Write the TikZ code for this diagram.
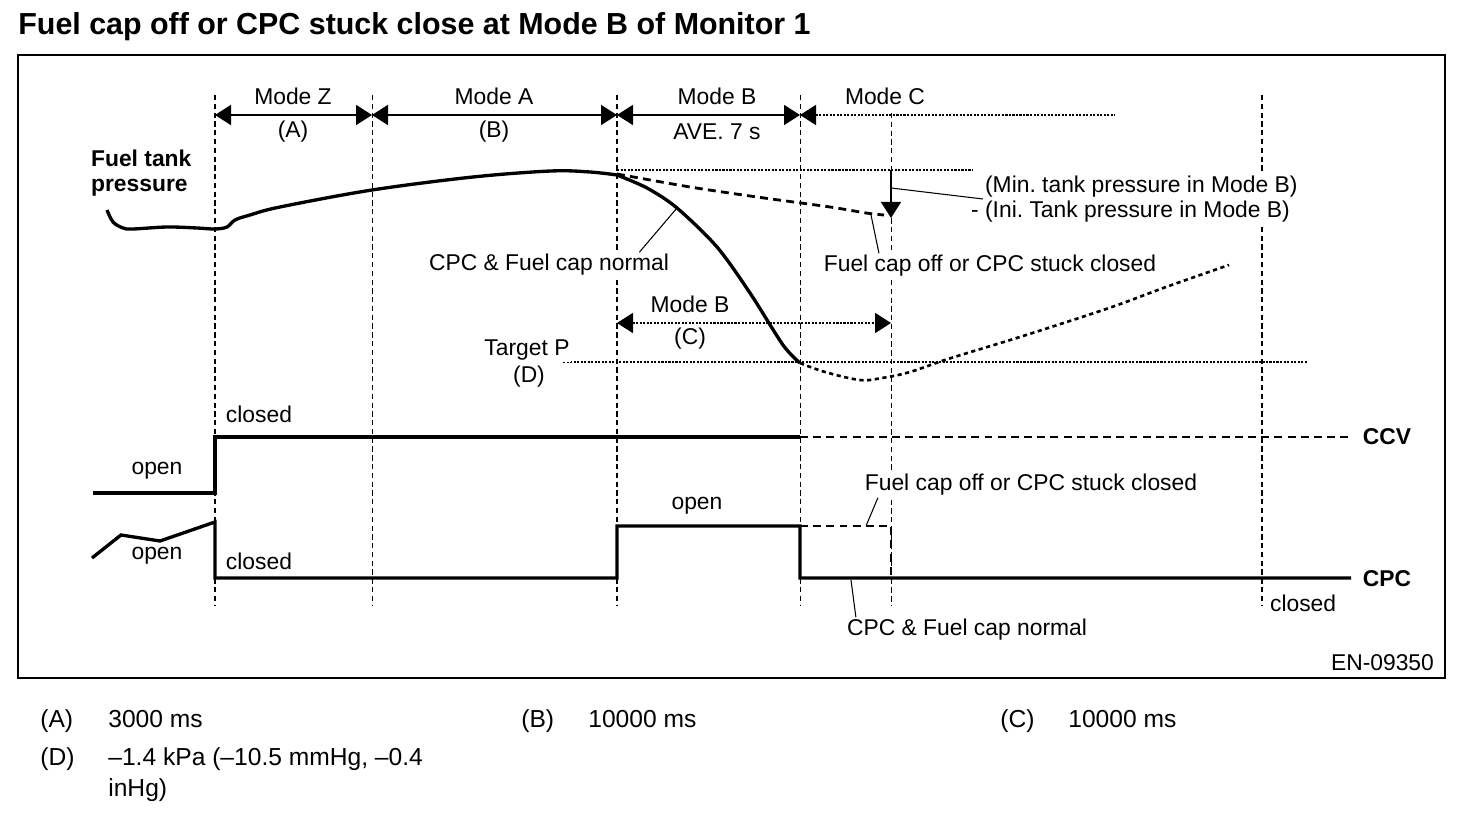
\documentclass[tikz,border=0pt]{standalone}
\usepackage{fontspec}
\setmainfont{Liberation Sans}
\usetikzlibrary{arrows.meta}
\usetikzlibrary{positioning}
\usetikzlibrary{calc}
\usetikzlibrary{math}
\frenchspacing

\begin{document}
\begin{tikzpicture}[x=0.2mm,y=-0.2mm,
  sig/.style={line width=1.9pt},
  sigdash/.style={line width=1.6pt,dash pattern=on 4.5pt off 3pt},
  sigdot/.style={line width=1.5pt,dash pattern=on 2.4pt off 2pt},
  markthin/.style={line width=0.5pt,dash pattern=on 3pt off 2pt},
  markthick/.style={line width=0.9pt,dash pattern=on 3pt off 2pt},
  dotln/.style={line width=0.9pt,dash pattern=on 1.2pt off 0.8pt},
  dim/.style={line width=1pt,{Triangle[length=3.2mm,width=4mm]}-{Triangle[length=3.2mm,width=4mm]}},
  lead/.style={line width=0.6pt},
  lbl/.style={font=\fontsize{13}{13.8}\selectfont,inner sep=1pt,fill=white},
  blbl/.style={font=\fontsize{13}{13.8}\selectfont\bfseries,inner sep=1pt},
  note/.style={font=\fontsize{14}{16}\selectfont,inner sep=0pt,anchor=base west},
]

  \tikzmath{
    \xZ  = 215;  % start of Mode Z
    \xA  = 372;  % start of Mode A
    \xB  = 617;  % start of Mode B
    \xC  = 800;  % start of Mode C
    \xM  = 891;  % end of Mode B (C)
    \xE  = 1262; % CPC closed again
    \yTop = 95;  % top of the time marks
    \yBot = 606; % bottom of the time marks
    \yDim = 115; % mode arrows
    \yHi  = 437; % CCV closed
    \yLo  = 493; % CCV open
    \yOp  = 526; % CPC open
    \yCl  = 578; % CPC closed
  }

  \useasboundingbox (0,0) rectangle (1472,814);

  % title and frame
  \node[font=\fontsize{17.3}{20}\selectfont\bfseries,anchor=base west,inner sep=0] (title) at (18,35)
    {Fuel cap off or CPC stuck close at Mode B of Monitor 1};
  \draw[line width=0.85pt] (18,55) rectangle (1445,678);

  % time marks
  \draw[markthick] (\xZ,\yTop) -- (\xZ,\yBot);
  \draw[markthin]  (\xA,\yTop) -- (\xA,\yBot);
  \draw[markthick] (\xB,\yTop) -- (\xB,\yBot);
  \draw[markthin]  (\xC,\yTop) -- (\xC,\yBot);
  \draw[markthin]  (\xM,113)   -- (\xM,\yBot);
  \draw[markthick] (\xE,\yTop) -- (\xE,\yBot);

  % mode arrows
  \coordinate (dZ) at (\xZ,\yDim);
  \coordinate (dA) at (\xA,\yDim);
  \coordinate (dB) at (\xB,\yDim);
  \coordinate (dC) at (\xC,\yDim);
  \coordinate (dEnd) at (1115,\yDim);

  \draw[dim] (dZ) -- (dA);
  \draw[dim] (dA) -- (dB);
  \draw[dim] (dB) -- (dC);
  \draw[dotln,{Triangle[length=3.2mm,width=4mm]}-] (dC) -- (dEnd);

  \node[lbl] (modeZ) at (293,96)  {Mode Z};
  \node[lbl] (timeA) at (293,132) {(A)};
  \node[lbl] (modeA) at (494,96)  {Mode A};
  \node[lbl] (timeB) at (494,132) {(B)};
  \node[lbl] (modeB) at (717,96)  {Mode B};
  \node[lbl] (aveB)  at (717,132) {AVE. 7 s};
  \node[lbl] (modeC) at (885,96)  {Mode C};

  % fuel tank pressure
  \node[blbl,align=left,anchor=west] (ftp) at (89,173) {Fuel tank\\pressure};

  \draw[sig] plot[smooth,tension=0.55] coordinates {(107,210) (113,222) (123,228) (133,229)
    (167,227) (197,228) (\xZ,229) (227,227) (235,220) (250,215) (280,207) (\xA,190)
    (473,177) (551,171) (590,172) (\xB,175)};
  \draw[sig] plot[smooth,tension=0.5] coordinates {(\xB,175) (647,188) (677,208)
    (717,247) (750,293) (783,345) (\xC,363)};

  \draw[sigdash] plot[smooth,tension=0.5] coordinates {(\xB,174) (690,187) (757,197)
    (830,207) (866,213) (884,215)};
  \draw[sigdot] plot[smooth,tension=0.6] coordinates {(\xC,363) (825,372) (860,380)
    (882,378) (910,372) (948,359) (1023,336) (1109,308) (1166,287) (1229,265)};

  % pressure drop in Mode B
  \coordinate (pIni) at (\xM,170);
  \coordinate (pMin) at (\xM,218);
  \draw[dotln] (\xB,170) -- (972,170);
  \draw[line width=0.8pt,-{Triangle[length=3.2mm,width=4mm]}] (pIni) -- (pMin);
  \node[lbl,align=left,anchor=west] (minlbl) at (983,199)
    {(Min. tank pressure in Mode B)\\\llap{- }(Ini. Tank pressure in Mode B)};
  \draw[lead] (\xM,188) -- (minlbl.west);

  % curve labels
  \coordinate (pN) at (677,208);
  \coordinate (pF) at (871,215);
  \node[lbl] (nrmU) at (549,265) {CPC \& Fuel cap normal};
  \node[lbl] (fcU)  at (990,266) {Fuel cap off or CPC stuck closed};
  \draw[lead] ($(nrmU.north west)!0.87!(nrmU.north east)$) -- (pN);
  \draw[lead] ($(fcU.north west)!0.17!(fcU.north east)$) -- (pF);

  % Mode B duration and target pressure
  \coordinate (cB) at (\xB,323);
  \coordinate (cM) at (\xM,323);
  \draw[dotln,dim] (cB) -- (cM);
  \node[lbl] (modeB2) at (690,304) {Mode B};
  \node[lbl] (timeC)  at (690,339) {(C)};

  \draw[dotln] (563,362) -- (1307,362);
  \node[lbl] (tgt)   at (527,350) {Target P};
  \node[lbl] (timeD) at (529,377) {(D)};

  % CCV
  \draw[sig] (93,\yLo) -- (\xZ,\yLo) -- (\xZ,\yHi) -- (\xC,\yHi);
  \draw[sigdash] (\xC,\yHi) -- (1349,\yHi);
  \node[lbl] (ccvOpen)   at (157,471) {open};
  \node[lbl] (ccvClosed) at (259,414) {closed};
  \node[blbl] (ccv) at (1387,437) {CCV};

  % CPC
  \draw[sig] (92,558) -- (121,535) -- (160,541) -- (\xZ,522) -- (\xZ,\yCl) -- (\xB,\yCl)
    -- (\xB,\yOp) -- (\xC,\yOp) -- (\xC,\yCl) -- (1351,\yCl);
  \draw[sigdash] (\xC,\yOp) -- (\xM,\yOp) -- (\xM,\yCl);
  \node[lbl] (cpcOpen)   at (157,556) {open};
  \node[lbl] (cpcClosed) at (259,561) {closed};
  \node[lbl] (cpcOpen2)  at (697,506) {open};
  \node[lbl,anchor=west] (cpcClosed2) at (1268,603) {closed};
  \node[blbl] (cpc) at (1387,579) {CPC};

  \coordinate (qF) at (866,526);
  \coordinate (qN) at (851,580);
  \node[lbl] (fcL)  at (1031,485) {Fuel cap off or CPC stuck closed};
  \node[lbl] (nrmL) at (967,630)  {CPC \& Fuel cap normal};
  \draw[lead] ($(fcL.south west)!0.045!(fcL.south east)$) -- (qF);
  \draw[lead] ($(nrmL.north west)!0.045!(nrmL.north east)$) -- (qN);

  \node[lbl,anchor=east] (code) at (1436,663) {EN-09350};

  % notes
  \node[note] (nA)  at (40,727)   {(A)};
  \node[note] (vA)  at (108,727)  {3000 ms};
  \node[note] (nB)  at (521,727)  {(B)};
  \node[note] (vB)  at (588,727)  {10000 ms};
  \node[note] (nC)  at (1000,727) {(C)};
  \node[note] (vC)  at (1068,727) {10000 ms};
  \node[note] (nD)  at (40,765)   {(D)};
  \node[note] (vD)  at (108,765)  {–1.4 kPa (–10.5 mmHg, –0.4};
  \node[note] (vD2) at (108,796)  {inHg)};

\end{tikzpicture}
\end{document}
